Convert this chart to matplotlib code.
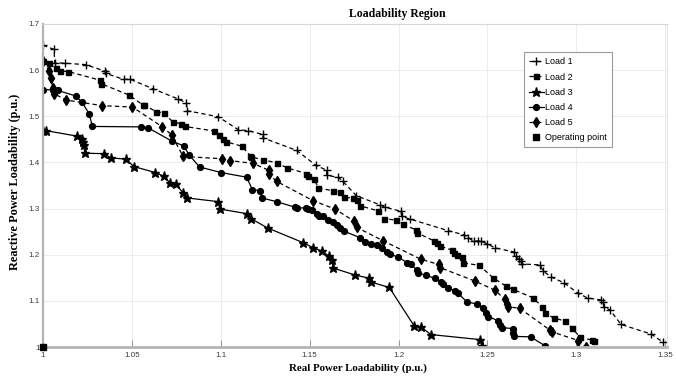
import numpy as np
import matplotlib
matplotlib.use("Agg")
import matplotlib.pyplot as plt

# --- data (real power P, reactive power Q, p.u.) ---
load1_p = [1.000, 1.0062, 1.0066, 1.0122, 1.0240, 1.0347, 1.0353, 1.0454, 1.0492, 1.0616,
           1.0757, 1.0807, 1.0811, 1.0986, 1.1098, 1.1151, 1.1235, 1.1239, 1.1427, 1.1534,
           1.1596, 1.1596, 1.1659, 1.1687, 1.1762, 1.1896, 1.1924, 1.2014, 1.2018, 1.2067,
           1.2280, 1.2369, 1.2393, 1.2422, 1.2449, 1.2463, 1.2498, 1.2541, 1.2648, 1.2658,
           1.2675, 1.2687, 1.2693, 1.2796, 1.2812, 1.2857, 1.2931, 1.3008, 1.3064, 1.3140,
           1.3149, 1.3158, 1.3190, 1.3251, 1.3421, 1.3489]
load1_q = [1.654, 1.645, 1.616, 1.615, 1.612, 1.598, 1.593, 1.580, 1.580, 1.560,
           1.538, 1.529, 1.512, 1.499, 1.471, 1.469, 1.461, 1.453, 1.426, 1.394,
           1.383, 1.372, 1.368, 1.359, 1.328, 1.308, 1.303, 1.294, 1.283, 1.277,
           1.252, 1.243, 1.237, 1.229, 1.230, 1.229, 1.224, 1.215, 1.206, 1.197,
           1.191, 1.187, 1.180, 1.178, 1.165, 1.152, 1.139, 1.117, 1.106, 1.102,
           1.097, 1.087, 1.080, 1.049, 1.028, 1.010]

load2_p = [1.000, 1.0032, 1.0072, 1.0094, 1.0141, 1.0323, 1.0325, 1.0484, 1.0560, 1.0569,
           1.0638, 1.0681, 1.0732, 1.0779, 1.0798, 1.0963, 1.0989, 1.1013, 1.1028, 1.1120,
           1.1164, 1.1169, 1.1237, 1.1314, 1.1375, 1.1481, 1.1492, 1.1525, 1.1549, 1.1629,
           1.1670, 1.1695, 1.1745, 1.1764, 1.1783, 1.1886, 1.1918, 1.1984, 1.2023, 1.2098,
           1.2106, 1.2200, 1.2215, 1.2233, 1.2299, 1.2314, 1.2327, 1.2355, 1.2364, 1.2454,
           1.2532, 1.2604, 1.2643, 1.2754, 1.2809, 1.2825, 1.2873, 1.2939, 1.2975, 1.3022,
           1.3087, 1.3102]
load2_q = [1.619, 1.615, 1.604, 1.598, 1.597, 1.578, 1.571, 1.546, 1.525, 1.524,
           1.510, 1.507, 1.487, 1.484, 1.478, 1.468, 1.460, 1.450, 1.445, 1.435,
           1.415, 1.412, 1.406, 1.399, 1.388, 1.376, 1.371, 1.365, 1.344, 1.339,
           1.335, 1.324, 1.323, 1.319, 1.306, 1.295, 1.278, 1.275, 1.266, 1.254,
           1.247, 1.230, 1.225, 1.219, 1.210, 1.204, 1.199, 1.194, 1.182, 1.177,
           1.150, 1.132, 1.125, 1.107, 1.087, 1.073, 1.063, 1.056, 1.041, 1.021,
           1.015, 1.014]

load3_p = [1.000, 1.0015, 1.0191, 1.0220, 1.0225, 1.0229, 1.0235, 1.0342, 1.0381, 1.0466,
           1.0512, 1.0632, 1.0680, 1.0713, 1.0747, 1.0790, 1.0811, 1.0987, 1.0993, 1.1147,
           1.1171, 1.1263, 1.1464, 1.1520, 1.1569, 1.1608, 1.1624, 1.1633, 1.1755, 1.1835,
           1.1843, 1.1948, 1.2089, 1.2125, 1.2181, 1.2459, 1.2468]
load3_q = [1.469, 1.469, 1.457, 1.451, 1.444, 1.437, 1.420, 1.419, 1.410, 1.407,
           1.391, 1.378, 1.370, 1.356, 1.353, 1.333, 1.323, 1.315, 1.299, 1.289,
           1.278, 1.258, 1.226, 1.215, 1.208, 1.197, 1.189, 1.171, 1.156, 1.149,
           1.141, 1.129, 1.045, 1.044, 1.027, 1.016, 1.002]

load4_p = [1.000, 1.0056, 1.0084, 1.0184, 1.0220, 1.0259, 1.0278, 1.0554, 1.0591, 1.0726,
           1.0792, 1.0822, 1.0881, 1.1003, 1.1145, 1.1178, 1.1220, 1.1230, 1.1314, 1.1417,
           1.1430, 1.1479, 1.1489, 1.1514, 1.1539, 1.1554, 1.1573, 1.1605, 1.1633, 1.1654,
           1.1670, 1.1693, 1.1783, 1.1814, 1.1845, 1.1877, 1.1905, 1.1933, 1.1952, 1.1999,
           1.2049, 1.2070, 1.2102, 1.2111, 1.2155, 1.2205, 1.2239, 1.2252, 1.2280, 1.2318,
           1.2333, 1.2384, 1.2440, 1.2477, 1.2490, 1.2504, 1.2560, 1.2571, 1.2581, 1.2642,
           1.2646, 1.2652, 1.2743, 1.2826]
load4_q = [1.558, 1.557, 1.556, 1.544, 1.530, 1.506, 1.478, 1.477, 1.475, 1.446,
           1.436, 1.416, 1.390, 1.378, 1.368, 1.341, 1.339, 1.323, 1.315, 1.303,
           1.302, 1.301, 1.299, 1.296, 1.288, 1.284, 1.283, 1.275, 1.271, 1.265,
           1.257, 1.251, 1.237, 1.228, 1.224, 1.220, 1.214, 1.205, 1.202, 1.194,
           1.183, 1.179, 1.167, 1.161, 1.155, 1.149, 1.141, 1.136, 1.127, 1.122,
           1.117, 1.098, 1.093, 1.084, 1.073, 1.066, 1.057, 1.047, 1.042, 1.040,
           1.030, 1.023, 1.022, 1.002]

load5_p = [1.000, 1.0034, 1.0043, 1.0056, 1.0062, 1.0132, 1.0334, 1.0503, 1.0672, 1.0723,
           1.0788, 1.1006, 1.1051, 1.1181, 1.1270, 1.1272, 1.1314, 1.1520, 1.1642, 1.1749,
           1.1766, 1.1914, 1.2126, 1.2226, 1.2233, 1.2429, 1.2543, 1.2599, 1.2609, 1.2618,
           1.2681, 1.2850, 1.2861, 1.3012, 1.3055]
load5_q = [1.619, 1.599, 1.582, 1.562, 1.549, 1.535, 1.523, 1.520, 1.477, 1.460,
           1.413, 1.408, 1.404, 1.398, 1.383, 1.374, 1.359, 1.317, 1.299, 1.273,
           1.259, 1.230, 1.190, 1.179, 1.172, 1.143, 1.123, 1.103, 1.093, 1.087,
           1.084, 1.037, 1.033, 1.014, 1.000]

op_p = [1.0]
op_q = [1.0]

xticks = [1.0, 1.05, 1.1, 1.15, 1.2, 1.25, 1.3, 1.35]
xtick_labels = ["1", "1.05", "1.1", "1.15", "1.2", "1.25", "1.3", "1.35"]
yticks = [1.0, 1.1, 1.2, 1.3, 1.4, 1.5, 1.6, 1.7]
ytick_labels = ["1", "1.1", "1.2", "1.3", "1.4", "1.5", "1.6", "1.7"]

# --- figure ---
W, H = 676, 379
fig = plt.figure(figsize=(W / 100, H / 100), dpi=100)
ax = fig.add_axes([43 / W, 32 / H, 624 / W, 323 / H])

dash = (3.5, 2.5)
lw = 0.9
ax.plot(load1_p, load1_q, color="k", lw=lw, ls="--", dashes=dash,
        marker="+", ms=6.2, mew=1.0, label="Load 1")
ax.plot(load2_p, load2_q, color="k", lw=lw, ls="--", dashes=dash,
        marker="s", ms=3.6, label="Load 2")
ax.plot(load3_p, load3_q, color="k", lw=lw, ls="-",
        marker="*", ms=6.5, label="Load 3")
ax.plot(load4_p, load4_q, color="k", lw=lw, ls="-",
        marker="o", ms=4.2, label="Load 4")
ax.plot(load5_p, load5_q, color="k", lw=lw, ls="--", dashes=dash,
        marker="d", ms=4.6, label="Load 5")
ax.plot(op_p, op_q, ls="none", color="k", marker="s", ms=4.6,
        clip_on=False, zorder=5, label="Operating point")

ax.set_xlim(1.0, 1.351)
ax.set_ylim(1.0, 1.7)
ax.set_xticks(xticks)
ax.set_xticklabels(xtick_labels)
ax.set_yticks(yticks)
ax.set_yticklabels(ytick_labels)

for lab in ax.get_xticklabels() + ax.get_yticklabels():
    lab.set_fontfamily("Liberation Sans")
    lab.set_fontsize(5.8)
    lab.set_color("#3a3a3a")

ax.tick_params(axis="x", direction="in", length=5, width=0.8, color="#9a9a9a", pad=3.5)
ax.tick_params(axis="y", direction="in", length=0, pad=2.5)
ax.grid(True, color="#ececec", lw=0.7)
ax.set_axisbelow(True)

ax.spines["left"].set_color("#b4b4b4")
ax.spines["left"].set_linewidth(1.6)
ax.spines["bottom"].set_color("#b4b4b4")
ax.spines["bottom"].set_linewidth(2.0)
ax.spines["top"].set_color("#d8d8d8")
ax.spines["top"].set_linewidth(0.8)
ax.spines["right"].set_color("#e4e4e4")
ax.spines["right"].set_linewidth(0.8)

leg = ax.legend(loc="upper left", bbox_to_anchor=(0.771, 0.912),
                prop={"family": "Liberation Sans", "size": 6.5},
                fancybox=False, framealpha=1, edgecolor="#9a9a9a",
                handlelength=1.6, handletextpad=0.2, labelspacing=0.68,
                borderpad=0.55, borderaxespad=0)
leg.get_frame().set_linewidth(0.8)

fig.text(397 / W, 1 - 14 / H, "Loadability Region", ha="center", va="center",
         family="Liberation Serif", weight="bold", size=8.5)
fig.text(358 / W, 1 - 368 / H, "Real Power Loadability (p.u.)", ha="center", va="center",
         family="Liberation Serif", weight="bold", size=7.8)
fig.text(15 / W, 1 - 182 / H, "Reactive Power Loadability (p.u.)", ha="center", va="center",
         rotation=90, family="Liberation Serif", weight="bold", size=8.8)

fig.savefig("out.png", dpi=100)
